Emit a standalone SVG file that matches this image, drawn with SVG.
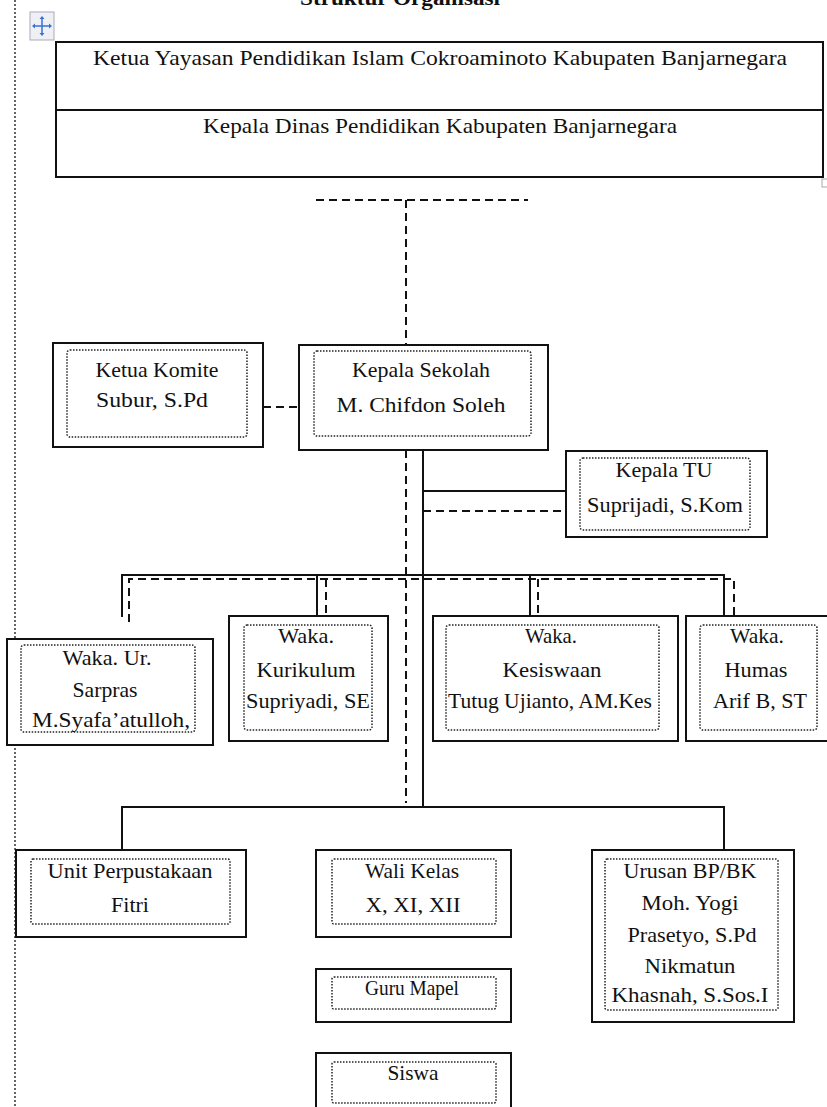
<svg xmlns="http://www.w3.org/2000/svg" width="827" height="1107" viewBox="0 0 827 1107">
<style>
  text { font-family: "Liberation Serif", "Times New Roman", serif; font-size: 22px; fill: #111; text-anchor: middle; }
  .box { fill: #fff; stroke: #111; stroke-width: 2; }
  .inner { fill: none; stroke: #222; stroke-width: 1.5; stroke-dasharray: 1.5 1.5; }
  .solid { fill: none; stroke: #111; stroke-width: 2; }
  .dash { fill: none; stroke: #111; stroke-width: 2; stroke-dasharray: 8 5; }
</style>
<rect x="0" y="0" width="827" height="1107" fill="#fff"/>
<line x1="15" y1="0" x2="15" y2="1107" stroke="#333" stroke-width="1.5" stroke-dasharray="2 2"/>
<text x="400" y="5" font-weight="bold" font-size="24" textLength="200" lengthAdjust="spacingAndGlyphs">Struktur Organisasi</text>
<g id="move-icon">
  <rect x="30" y="12" width="24" height="28" fill="#eef0f4" stroke="#aab" stroke-width="1"/>
  <path d="M42 18 V34 M34 26 H50" stroke="#3a6fd8" stroke-width="1.5"/>
  <path d="M42 16 l-2.5 3 h5 z M42 36 l-2.5 -3 h5 z M32 26 l3 -2.5 v5 z M52 26 l-3 -2.5 v5 z" fill="#3a6fd8"/>
</g>
<rect x="822" y="179" width="6" height="8" fill="#fff" stroke="#aaa" stroke-width="1"/>

<g id="connectors">
  <line class="dash" x1="316" y1="200" x2="528" y2="200"/>
  <line class="dash" x1="406" y1="200" x2="406" y2="345"/>
  <line class="dash" x1="263" y1="407" x2="299" y2="407"/>
  <line class="dash" x1="406" y1="450" x2="406" y2="803"/>
  <line class="solid" x1="423" y1="450" x2="423" y2="807"/>
  <line class="solid" x1="423" y1="491" x2="566" y2="491"/>
  <line class="dash" x1="423" y1="511" x2="566" y2="511"/>
  <path class="solid" d="M122 617 V575 H724 V616 M317 575 V616 M530 575 V616"/>
  <path class="dash" d="M129 622 V579 H734 V624 M326 579 V624 M538 579 V624"/>
  <path class="solid" d="M122 850 V807 H724 V850"/>
</g>

<g id="header">
  <rect class="box" x="56" y="42" width="767" height="135"/>
  <line class="solid" x1="56" y1="110" x2="823" y2="110"/>
  <text x="440" y="65" font-size="25" textLength="694" lengthAdjust="spacingAndGlyphs">Ketua Yayasan Pendidikan Islam Cokroaminoto Kabupaten  Banjarnegara</text>
  <text x="440" y="133" font-size="23" textLength="474" lengthAdjust="spacingAndGlyphs">Kepala Dinas Pendidikan Kabupaten Banjarnegara</text>
</g>

<g id="ketua-komite">
  <rect class="box" x="53" y="343" width="210" height="104"/>
  <rect class="inner" x="67" y="350" width="180" height="87" rx="3"/>
  <text x="157" y="377" textLength="123" lengthAdjust="spacingAndGlyphs">Ketua Komite</text>
  <text x="152" y="407" textLength="112" lengthAdjust="spacingAndGlyphs">Subur, S.Pd</text>
</g>

<g id="kepala-sekolah">
  <rect class="box" x="299" y="345" width="249" height="105"/>
  <rect class="inner" x="314" y="351" width="217" height="85" rx="3"/>
  <text x="421" y="377" textLength="138" lengthAdjust="spacingAndGlyphs">Kepala Sekolah</text>
  <text x="421" y="412" font-size="25" textLength="169" lengthAdjust="spacingAndGlyphs">M. Chifdon Soleh</text>
</g>

<g id="kepala-tu">
  <rect class="box" x="566" y="451" width="201" height="86"/>
  <rect class="inner" x="580" y="458" width="170" height="72" rx="3"/>
  <text x="664" y="477" textLength="97" lengthAdjust="spacingAndGlyphs">Kepala TU</text>
  <text x="665" y="512" textLength="156" lengthAdjust="spacingAndGlyphs">Suprijadi, S.Kom</text>
</g>

<g id="waka-sarpras">
  <rect class="box" x="7" y="639" width="206" height="106"/>
  <rect class="inner" x="21" y="645" width="174" height="87" rx="3"/>
  <text x="107" y="665" textLength="89" lengthAdjust="spacingAndGlyphs">Waka. Ur.</text>
  <text x="105" y="697" textLength="65" lengthAdjust="spacingAndGlyphs">Sarpras</text>
  <text x="111" y="727" textLength="158" lengthAdjust="spacingAndGlyphs">M.Syafa’atulloh,</text>
</g>

<g id="waka-kurikulum">
  <rect class="box" x="229" y="616" width="159" height="125"/>
  <rect class="inner" x="244" y="625" width="128" height="105" rx="3"/>
  <text x="306" y="643" textLength="56" lengthAdjust="spacingAndGlyphs">Waka.</text>
  <text x="306" y="677" textLength="99" lengthAdjust="spacingAndGlyphs">Kurikulum</text>
  <text x="308" y="708" textLength="124" lengthAdjust="spacingAndGlyphs">Supriyadi, SE</text>
</g>

<g id="waka-kesiswaan">
  <rect class="box" x="433" y="616" width="245" height="125"/>
  <rect class="inner" x="446" y="625" width="213" height="105" rx="3"/>
  <text x="551" y="643" textLength="52" lengthAdjust="spacingAndGlyphs">Waka.</text>
  <text x="552" y="677" textLength="99" lengthAdjust="spacingAndGlyphs">Kesiswaan</text>
  <text x="550" y="708" textLength="204" lengthAdjust="spacingAndGlyphs">Tutug Ujianto, AM.Kes</text>
</g>

<g id="waka-humas">
  <rect class="box" x="686" y="616" width="150" height="125"/>
  <rect class="inner" x="700" y="625" width="117" height="105" rx="3"/>
  <text x="757" y="643" textLength="54" lengthAdjust="spacingAndGlyphs">Waka.</text>
  <text x="756" y="677" textLength="63" lengthAdjust="spacingAndGlyphs">Humas</text>
  <text x="760" y="708" textLength="94" lengthAdjust="spacingAndGlyphs">Arif B, ST</text>
</g>

<g id="unit-perpustakaan">
  <rect class="box" x="16" y="850" width="230" height="87"/>
  <rect class="inner" x="31" y="859" width="199" height="65" rx="2"/>
  <text x="130" y="878" textLength="165" lengthAdjust="spacingAndGlyphs">Unit Perpustakaan</text>
  <text x="130" y="912" textLength="38" lengthAdjust="spacingAndGlyphs">Fitri</text>
</g>

<g id="wali-kelas">
  <rect class="box" x="316" y="850" width="195" height="87"/>
  <rect class="inner" x="332" y="859" width="164" height="65" rx="2"/>
  <text x="412" y="878" textLength="94" lengthAdjust="spacingAndGlyphs">Wali Kelas</text>
  <text x="413" y="912" font-size="24" textLength="95" lengthAdjust="spacingAndGlyphs">X, XI, XII</text>
</g>

<g id="guru-mapel">
  <rect class="box" x="316" y="969" width="195" height="53"/>
  <rect class="inner" x="332" y="977" width="164" height="32" rx="2"/>
  <text x="412" y="995" font-size="18" textLength="94" lengthAdjust="spacingAndGlyphs">Guru Mapel</text>
</g>

<g id="siswa">
  <rect class="box" x="316" y="1053" width="195" height="70"/>
  <rect class="inner" x="332" y="1062" width="164" height="41" rx="2"/>
  <text x="413" y="1080" font-size="20" textLength="51" lengthAdjust="spacingAndGlyphs">Siswa</text>
</g>

<g id="urusan-bpbk">
  <rect class="box" x="592" y="850" width="202" height="172"/>
  <rect class="inner" x="605" y="859" width="173" height="151" rx="2"/>
  <text x="690" y="878" textLength="133" lengthAdjust="spacingAndGlyphs">Urusan BP/BK</text>
  <text x="690" y="910" textLength="97" lengthAdjust="spacingAndGlyphs">Moh. Yogi</text>
  <text x="692" y="942" textLength="129" lengthAdjust="spacingAndGlyphs">Prasetyo, S.Pd</text>
  <text x="690" y="973" textLength="91" lengthAdjust="spacingAndGlyphs">Nikmatun</text>
  <text x="690" y="1002" textLength="157" lengthAdjust="spacingAndGlyphs">Khasnah, S.Sos.I</text>
</g>
</svg>
